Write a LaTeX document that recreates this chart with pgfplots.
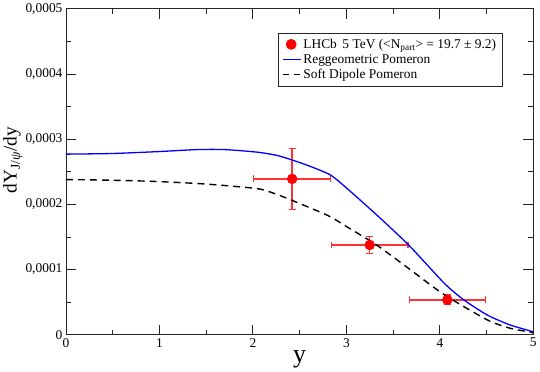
\documentclass[border=0pt]{standalone}
\usepackage{pgfplots}
\pgfplotsset{compat=1.18}
\usetikzlibrary{arrows.meta}
\usepackage{fontspec}
\setmainfont{Liberation Serif}

\begin{document}
\begin{tikzpicture}[font=\fontsize{13.5}{15}\selectfont]
  \begin{axis}[
      scale only axis,
      width=469bp, height=327bp,
      xmin=0, xmax=5, ymin=0, ymax=0.0005,
      xtick={0,1,2,3,4,5},
      xticklabels={0,1,2,3,4,5},
      minor x tick num=1,
      ytick={0,0.0001,0.0002,0.0003,0.0004,0.0005},
      yticklabels={0,{0,0001},{0,0002},{0,0003},{0,0004},{0,0005}},
      minor y tick num=1,
      scaled y ticks=false,
      tick align=inside,
      major tick length=10bp,
      minor tick length=5bp,
      axis line style={line width=0.8bp, black!85},
      every tick/.style={line width=0.8bp, black!85},
      xlabel={y},
      ylabel={dY\textsubscript{J/\textit{ψ}}/dy},
      xlabel style={font=\fontsize{26}{28}\selectfont, yshift=3bp},
      ylabel style={font=\fontsize{19.5}{22}\selectfont, at={(ticklabel cs:0.535)}, yshift=-4bp},
      legend style={
        at={(0.934,0.927)}, anchor=north east,
        draw=black!85, line width=0.8bp,
        font=\fontsize{13.5}{15}\selectfont,
        row sep=0.5bp, inner xsep=4bp, inner ysep=4bp,
        cells={anchor=west},
      },
      legend cell align=left,
  ]

  % legend entries
  \addlegendimage{only marks, mark=*, mark size=5bp, red, mark options={fill=red, draw=red}}
  \addlegendentry{LHCb\, 5 TeV (<N\textsubscript{part}> = 19.7 ± 9.2)}
  \addlegendimage{legend image code/.code={
      \draw[draw=blue, line width=1.4bp] (0bp,0bp) -- (18bp,0bp);}}
  \addlegendentry{Reggeometric Pomeron}
  \addlegendimage{legend image code/.code={
      \draw[draw=black, line width=1.5bp, dash pattern=on 6bp off 5bp] (0bp,0bp) -- (18bp,0bp);}}
  \addlegendentry{Soft Dipole Pomeron}

  \addplot[
      forget plot,
      only marks, mark=*, mark size=5bp,
      color=red, mark options={fill=red, draw=red},
      error bars/.cd,
        x dir=both, x explicit,
        y dir=both, y explicit,
        error mark=none,
        error bar style={line width=1.4bp, red!80, {Bar[width=7bp]}-{Bar[width=7bp]}},
    ]
    coordinates {
      (2.42,0.000239) +- (0.42,0.000048)
      (3.25,0.0001376) +- (0.415,0.0000145)
      (4.08,0.0000535) +- (0.415,0.0000085)
    };

  \addplot[forget plot, color=blue, line width=1.3bp, smooth, tension=0.4]
    coordinates {
      (0,0.000277) (0.5,0.000278) (1,0.000281) (1.4,0.000284)
      (1.7,0.000284) (2.05,0.000280) (2.26,0.000275) (2.42,0.000268)
      (2.6,0.000259) (2.83,0.000245) (3.01,0.000224) (3.33,0.000183)
      (3.67,0.000137) (4.05,0.0000785) (4.26,0.000053) (4.51,0.000030)
      (4.75,0.000015) (5,0.0000045)
    };

  \addplot[forget plot, color=black, line width=1.4bp, dash pattern=on 7bp off 5bp, smooth, tension=0.4]
    coordinates {
      (0,0.000238) (0.5,0.000237) (0.975,0.000235) (1.51,0.000231)
      (2.05,0.000224) (2.26,0.000215) (2.42,0.000206) (2.8,0.000183)
      (3.0,0.000166) (3.33,0.000137) (3.7,0.000098) (4.05,0.000061)
      (4.51,0.0000225) (4.75,0.000010) (5,0.000003)
    };

  \end{axis}
\end{tikzpicture}
\end{document}
